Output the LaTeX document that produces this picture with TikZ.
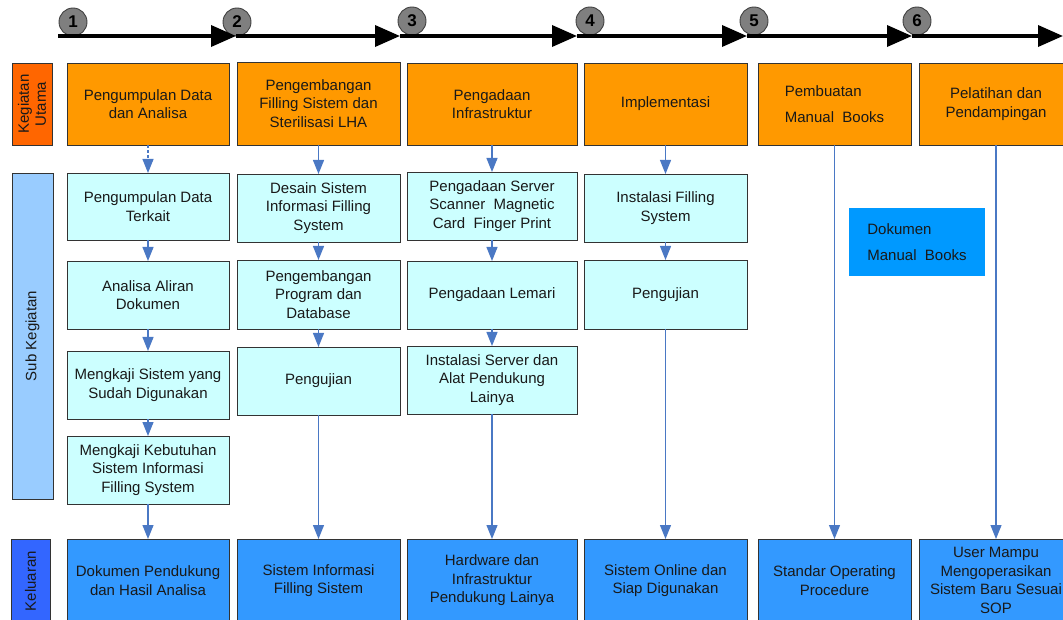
\documentclass[tikz,border=0pt]{standalone}
\usepackage{fontspec}
\setmainfont{Liberation Sans}
\usetikzlibrary{arrows.meta}

\definecolor{mainorange}{HTML}{FF9900}
\definecolor{labelorange}{HTML}{FF6600}
\definecolor{subcyan}{HTML}{CCFFFF}
\definecolor{labelsky}{HTML}{99CCFF}
\definecolor{labelblue}{HTML}{3366FF}
\definecolor{outblue}{HTML}{3399FF}
\definecolor{docblue}{HTML}{0099FF}
\definecolor{flowblue}{HTML}{4A78C4}
\definecolor{stepgray}{HTML}{7F7F7F}

\tikzset{
  box/.style      = {draw=black!80, line width=0.8pt, anchor=north west, inner sep=2pt,
                     outer sep=0pt, align=center, text=black!90,
                     font=\fontsize{15}{18.5}\selectfont},
  mainbox/.style  = {box, fill=mainorange, minimum height=82},
  subbox/.style   = {box, fill=subcyan, minimum height=68},
  outbox/.style   = {box, fill=outblue, minimum height=83},
  rowlabel/.style = {box, anchor=center, rotate=90, font=\fontsize{15}{17}\selectfont},
  stepcircle/.style = {circle, draw=black!75, line width=0.9pt, fill=stepgray,
                     minimum size=28, inner sep=0pt, font=\fontsize{17}{17}\selectfont\bfseries},
  timeline/.style = {line width=3.6pt, -{Triangle[length=25pt, width=21pt]}},
  flow/.style     = {draw=flowblue, line width=1.2pt, -{Triangle[length=14pt, width=11pt]}},
}

\begin{document}
\begin{tikzpicture}[x=1pt, y=-1pt]

\useasboundingbox (0,0) rectangle (1063,620);
\clip (0,0) rectangle (1063,620);

% tahapan
\node[stepcircle] (c1) at ( 73,22) {1};
\node[stepcircle] (c2) at (237,22) {2};
\node[stepcircle] (c3) at (412,21) {3};
\node[stepcircle] (c4) at (590,21) {4};
\node[stepcircle] (c5) at (754,21) {5};
\node[stepcircle] (c6) at (917,21) {6};

\coordinate (t0) at (  58,36);
\coordinate (t1) at ( 236,36);
\coordinate (t2) at ( 400,36);
\coordinate (t3) at ( 577,36);
\coordinate (t4) at ( 747,36);
\coordinate (t5) at ( 912,36);
\coordinate (t6) at (1063,36);

\draw[timeline] (t0) -- (t1);
\draw[timeline] (t1) -- (t2);
\draw[timeline] (t2) -- (t3);
\draw[timeline] (t3) -- (t4);
\draw[timeline] (t4) -- (t5);
\draw[timeline] (t5) -- (t6);

% label baris
\node[rowlabel, fill=labelorange, minimum width=82,  minimum height=40] (kegiatan) at (32,104) {Kegiatan\\Utama};
\node[rowlabel, fill=labelsky,    minimum width=326, minimum height=41] (sub)      at (32.5,336) {Sub Kegiatan};
\node[rowlabel, fill=labelblue,   minimum width=84,  minimum height=39] (keluaran) at (30.5,581) {Keluaran};

% kegiatan utama
\node[mainbox, minimum width=162] (m1) at ( 67,63) {Pengumpulan Data\\dan Analisa};
\node[mainbox, minimum width=163, minimum height=83] (m2) at (237,62) {Pengembangan\\Filling Sistem dan\\Sterilisasi LHA};
\node[mainbox, minimum width=170] (m3) at (407,63) {Pengadaan\\Infrastruktur};
\node[mainbox, minimum width=163] (m4) at (584,63) {Implementasi};
\node[mainbox, minimum width=153, align=left] (m5) at (758,63) {Pembuatan\\[7pt]Manual~~Books};
\node[mainbox, minimum width=154] (m6) at (919,63) {Pelatihan dan\\Pendampingan};

% sub kegiatan
\node[subbox, minimum width=162, minimum height=67] (s1a) at ( 67,173) {Pengumpulan Data\\Terkait};
\node[subbox, minimum width=162] (s1b) at ( 67,261) {Analisa Aliran\\Dokumen};
\node[subbox, minimum width=162] (s1c) at ( 67,351) {Mengkaji Sistem yang\\Sudah Digunakan};
\node[subbox, minimum width=162] (s1d) at ( 67,436) {Mengkaji Kebutuhan\\Sistem Informasi\\Filling System};

\node[subbox, minimum width=163] (s2a) at (237,174) {Desain Sistem\\Informasi Filling\\System};
\node[subbox, minimum width=163, minimum height=69] (s2b) at (237,260) {Pengembangan\\Program dan\\Database};
\node[subbox, minimum width=163] (s2c) at (237,347) {Pengujian};

\node[subbox, minimum width=170] (s3a) at (407,172) {Pengadaan Server\\Scanner~~Magnetic\\Card~~Finger Print};
\node[subbox, minimum width=170] (s3b) at (407,261) {Pengadaan Lemari};
\node[subbox, minimum width=170] (s3c) at (407,346) {Instalasi Server dan\\Alat Pendukung\\Lainya};

\node[subbox, minimum width=163] (s4a) at (584,174) {Instalasi Filling\\System};
\node[subbox, minimum width=163, minimum height=69] (s4b) at (584,260) {Pengujian};

\node[box, draw=none, fill=docblue, align=left, minimum width=136, minimum height=68] (dok) at (849,208) {Dokumen\\[8pt]Manual~~Books};

% keluaran
\node[outbox, minimum width=162] (o1) at ( 67,539) {Dokumen Pendukung\\dan Hasil Analisa};
\node[outbox, minimum width=163] (o2) at (237,539) {Sistem Informasi\\Filling Sistem};
\node[outbox, minimum width=170] (o3) at (407,539) {Hardware dan\\Infrastruktur\\Pendukung Lainya};
\node[outbox, minimum width=163] (o4) at (584,539) {Sistem Online dan\\Siap Digunakan};
\node[outbox, minimum width=153] (o5) at (758,539) {Standar Operating\\Procedure};
\node[outbox, minimum width=154] (o6) at (919,539) {User Mampu\\Mengoperasikan\\Sistem Baru Sesuai\\SOP};

% alur
\draw[flow, densely dashed] (m1) -- (s1a);
\draw[flow] (s1a) -- (s1b);
\draw[flow] (s1b) -- (s1c);
\draw[flow] (s1c) -- (s1d);
\draw[flow] (s1d) -- (o1);

\draw[flow] (m2)  -- (s2a);
\draw[flow] (s2a) -- (s2b);
\draw[flow] (s2b) -- (s2c);
\draw[flow] (s2c) -- (o2);

\draw[flow] (m3)  -- (s3a);
\draw[flow] (s3a) -- (s3b);
\draw[flow] (s3b) -- (s3c);
\draw[flow] (s3c) -- (o3);

\draw[flow] (m4)  -- (s4a);
\draw[flow] (s4a) -- (s4b);
\draw[flow] (s4b) -- (o4);

\draw[flow] (m5) -- (o5);
\draw[flow] (m6) -- (o6);

\end{tikzpicture}
\end{document}
